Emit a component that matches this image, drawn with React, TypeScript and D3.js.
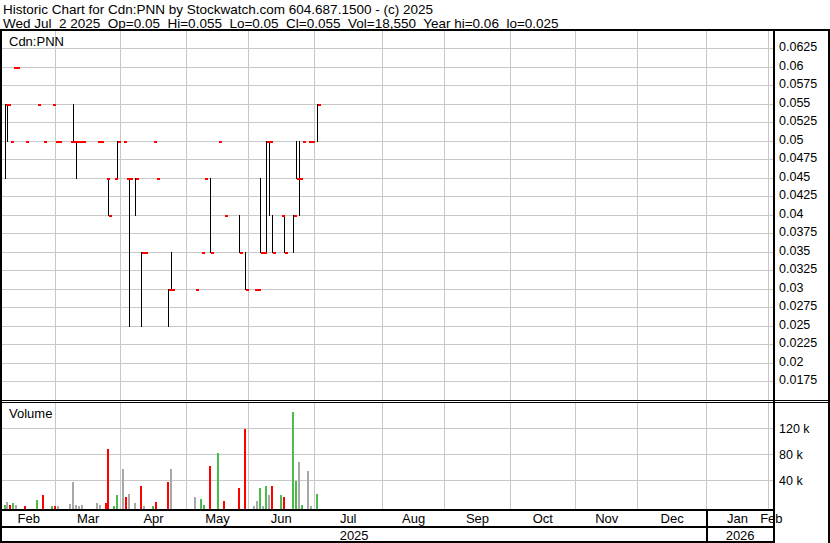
import { useEffect, useRef } from 'react';
import * as d3 from 'd3';

const title = 'Historic Chart for Cdn:PNN by Stockwatch.com 604.687.1500 - (c) 2025';
const quote = 'Wed Jul  2 2025  Op=0.05  Hi=0.055  Lo=0.05  Cl=0.055  Vol=18,550  Year hi=0.06  lo=0.025';
const symbol = 'Cdn:PNN';

// daily sessions (only days that traded)
const dates = [
  '2025-02-05', '2025-02-06', '2025-02-07', '2025-02-10', '2025-02-11', '2025-02-14', '2025-02-20', '2025-02-24',
  '2025-02-27', '2025-02-28', '2025-03-03', '2025-03-07', '2025-03-10', '2025-03-11', '2025-03-12', '2025-03-13',
  '2025-03-20', '2025-03-21', '2025-03-25', '2025-03-26', '2025-03-28', '2025-03-31', '2025-04-02', '2025-04-03',
  '2025-04-04', '2025-04-08', '2025-04-10', '2025-04-11', '2025-04-16', '2025-04-17', '2025-04-23', '2025-04-24',
  '2025-05-06', '2025-05-08', '2025-05-09', '2025-05-13', '2025-05-16', '2025-05-20', '2025-05-27', '2025-05-29',
  '2025-06-03', '2025-06-04', '2025-06-05', '2025-06-06', '2025-06-09', '2025-06-10', '2025-06-11', '2025-06-16',
  '2025-06-17', '2025-06-20', '2025-06-23', '2025-06-24', '2025-06-25', '2025-06-27', '2025-06-30', '2025-07-02',
];
const highs = [
  0.055, 0.055, 0.05, 0.06, 0.06, 0.05, 0.055, 0.05,
  0.055, 0.05, 0.05, 0.05, 0.055, 0.05, 0.05, 0.05,
  0.05, 0.05, 0.045, 0.045, 0.045, 0.05, 0.05, 0.045,
  0.045, 0.045, 0.035, 0.035, 0.05, 0.045, 0.03, 0.035,
  0.03, 0.035, 0.045, 0.045, 0.05, 0.04, 0.04, 0.035,
  0.03, 0.03, 0.045, 0.035, 0.05, 0.05, 0.04, 0.04,
  0.04, 0.04, 0.05, 0.05, 0.05, 0.05, 0.05, 0.055,
];
const lows = [
  0.045, 0.05, 0.05, 0.06, 0.06, 0.05, 0.055, 0.05,
  0.055, 0.05, 0.05, 0.05, 0.05, 0.045, 0.05, 0.05,
  0.05, 0.05, 0.045, 0.04, 0.045, 0.045, 0.05, 0.045,
  0.025, 0.04, 0.025, 0.035, 0.05, 0.045, 0.025, 0.03,
  0.03, 0.035, 0.045, 0.035, 0.05, 0.04, 0.035, 0.03,
  0.03, 0.03, 0.035, 0.035, 0.035, 0.04, 0.035, 0.04,
  0.035, 0.035, 0.045, 0.04, 0.05, 0.05, 0.05, 0.05,
];
const closes = [
  0.055, 0.055, 0.05, 0.06, 0.06, 0.05, 0.055, 0.05,
  0.055, 0.05, 0.05, 0.05, 0.05, 0.05, 0.05, 0.05,
  0.05, 0.05, 0.045, 0.04, 0.045, 0.05, 0.05, 0.045,
  0.045, 0.045, 0.035, 0.035, 0.05, 0.045, 0.03, 0.03,
  0.03, 0.035, 0.045, 0.035, 0.05, 0.04, 0.035, 0.03,
  0.03, 0.03, 0.035, 0.035, 0.05, 0.05, 0.035, 0.04,
  0.035, 0.04, 0.045, 0.045, 0.05, 0.05, 0.05, 0.055,
];
const volumes = [
  2500, 7000, 2500, 5500, 2500, 1500, 10000, 18000,
  1000, 1500, 1500, 4000, 37000, 2500, 1000, 2500,
  5500, 2500, 5500, 88000, 1000, 18000, 57000, 14000,
  20000, 5500, 31000, 1000, 500, 7000, 37000, 58000,
  14000, 12000, 2500, 63000, 83000, 8500, 29000, 120000,
  1000, 8500, 29000, 1000, 31000, 17000, 31000, 18000,
  15000, 146000, 40000, 69000, 2500, 55000, 1000, 18550,
];
const priorClose = 0.05;

const priceTicks = [0.0625, 0.06, 0.0575, 0.055, 0.0525, 0.05, 0.0475, 0.045, 0.0425, 0.04,
  0.0375, 0.035, 0.0325, 0.03, 0.0275, 0.025, 0.0225, 0.02, 0.0175];
const volumeTicks = [40000, 80000, 120000];
const volumeLabels = ['40 k', '80 k', '120 k'];
const monthStarts = ['2025-02-01', '2025-03-01', '2025-04-01', '2025-05-01', '2025-06-01', '2025-07-01',
  '2025-08-01', '2025-09-01', '2025-10-01', '2025-11-01', '2025-12-01', '2026-01-01', '2026-02-01', '2026-03-01'];
const monthLabels = ['Feb', 'Mar', 'Apr', 'May', 'Jun', 'Jul', 'Aug', 'Sep', 'Oct', 'Nov', 'Dec', 'Jan', 'Feb'];
const yearLabels = ['2025', '2026'];

const parse = d3.timeParse('%Y-%m-%d');
const origin = parse('2025-02-05')!;
const weekend = (d: Date) => d.getDay() === 0 || d.getDay() === 6;

// weekday slot number counted from the first plotted session
function slot(d: Date) {
  let t = d;
  while (weekend(t)) t = d3.timeDay.offset(t, -1);
  if (t < origin) return -d3.timeDay.range(t, origin).filter((x) => !weekend(x)).length;
  return d3.timeDay.range(origin, t).filter((x) => !weekend(x)).length;
}

export default function App() {
  const ref = useRef<SVGSVGElement>(null);
  const width = 830;
  const height = 543;

  useEffect(() => {
    if (!ref.current) return;
    const svg = d3.select(ref.current);
    svg.selectAll('*').remove();

    const left = 2, right = 774;
    const font = "'Liberation Sans', Arial, sans-serif";

    const x = d3.scaleLinear().domain([0, 105]).range([5, 317]);
    const y = d3.scaleLinear().domain([0.025, 0.05]).range([326.3, 141.3]);
    const yv = d3.scaleLinear().domain([0, 40000]).range([506.5, 480.5]);
    const volBase = 509;

    const px = (v: number) => Math.floor(v) + 0.5;
    const days = dates.map((s, i) => ({
      s: slot(parse(s)!), hi: highs[i], lo: lows[i], cl: closes[i], vol: volumes[i],
      prev: i === 0 ? priorClose : closes[i - 1],
    }));

    svg.append('rect').attr('width', width).attr('height', height).attr('fill', '#fff');

    const grid = svg.append('g').attr('stroke', '#c8c8c8').attr('shape-rendering', 'crispEdges');
    grid.selectAll('line.p').data(priceTicks).enter().append('line')
      .attr('x1', left).attr('x2', right).attr('y1', (d) => px(y(d))).attr('y2', (d) => px(y(d)));
    grid.selectAll('line.v').data(volumeTicks).enter().append('line')
      .attr('x1', left).attr('x2', right).attr('y1', (d) => px(yv(d))).attr('y2', (d) => px(yv(d)));

    const gx = monthStarts.map((m) => x(slot(parse(m)!)));
    const inner = gx.filter((g) => g > left && g < right);
    grid.selectAll('line.m1').data(inner).enter().append('line')
      .attr('x1', (d) => px(d)).attr('x2', (d) => px(d)).attr('y1', 31).attr('y2', 400);
    grid.selectAll('line.m2').data(inner).enter().append('line')
      .attr('x1', (d) => px(d)).attr('x2', (d) => px(d)).attr('y1', 403).attr('y2', 509);

    // hi-lo bars
    svg.append('g').attr('shape-rendering', 'crispEdges').selectAll('line')
      .data(days.filter((d) => d.hi > d.lo)).enter().append('line')
      .attr('x1', (d) => px(x(d.s))).attr('x2', (d) => px(x(d.s)))
      .attr('y1', (d) => Math.floor(y(d.hi))).attr('y2', (d) => Math.floor(y(d.lo)) + 1)
      .attr('stroke', '#000').attr('stroke-width', 1);

    // close ticks
    svg.append('g').attr('shape-rendering', 'crispEdges').selectAll('rect')
      .data(days).enter().append('rect')
      .attr('x', (d) => Math.floor(x(d.s)) + 1).attr('y', (d) => Math.floor(y(d.cl)))
      .attr('width', 2.6).attr('height', 2).attr('fill', '#ff0000');

    // volume
    svg.append('g').attr('shape-rendering', 'crispEdges').selectAll('rect')
      .data(days).enter().append('rect')
      .attr('x', (d) => Math.floor(x(d.s)) - 1).attr('width', 2)
      .attr('y', (d) => yv(d.vol)).attr('height', (d) => volBase - yv(d.vol))
      .attr('fill', (d) => (d.cl > d.prev ? '#4cbb4c' : d.cl < d.prev ? '#ff0000' : '#a8a8a8'));

    const text = svg.append('g').attr('font-family', font).attr('fill', '#000');
    text.append('text').attr('x', 3).attr('y', 14).attr('font-size', 13.5).text(title);
    text.append('text').attr('x', 3).attr('y', 27.5).attr('font-size', 13.5)
      .style('white-space', 'pre').text(quote);
    text.append('text').attr('x', 9).attr('y', 46).attr('font-size', 13).text(symbol);
    text.append('text').attr('x', 9).attr('y', 418).attr('font-size', 13).text('Volume');

    text.selectAll('text.pl').data(priceTicks).enter().append('text')
      .attr('x', 779).attr('y', (d) => y(d) + 2.5).attr('font-size', 12.5).text((d) => String(d));
    text.selectAll('text.vl').data(volumeTicks).enter().append('text')
      .attr('x', 779).attr('y', (d) => yv(d) + 4).attr('font-size', 12.5)
      .text((d, i) => volumeLabels[i]);

    monthLabels.forEach((m, i) => {
      const a = Math.max(left, gx[i]);
      const b = Math.min(right, gx[i + 1]);
      text.append('text').attr('x', (a + b) / 2).attr('y', 523).attr('font-size', 13)
        .attr('text-anchor', 'middle').text(m);
    });
    const jan = gx[11];
    [[left, jan], [jan, right]].forEach(([a, b], i) => {
      text.append('text').attr('x', (a + b) / 2).attr('y', 539.5).attr('font-size', 13)
        .attr('text-anchor', 'middle').text(yearLabels[i]);
    });

    // frame
    const frame = svg.append('g').attr('fill', '#000').attr('shape-rendering', 'crispEdges');
    frame.append('rect').attr('x', 0).attr('y', 29).attr('width', width).attr('height', 2);
    frame.append('rect').attr('x', 0).attr('y', 29).attr('width', 2).attr('height', height - 29);
    frame.append('rect').attr('x', 773).attr('y', 29).attr('width', 2).attr('height', height - 29);
    frame.append('rect').attr('x', 828).attr('y', 29).attr('width', 2).attr('height', height - 29);
    frame.append('rect').attr('x', 0).attr('y', 400).attr('width', width).attr('height', 1);
    frame.append('rect').attr('x', 0).attr('y', 402).attr('width', width).attr('height', 1);
    frame.append('rect').attr('x', 0).attr('y', 509).attr('width', 775).attr('height', 2);
    frame.append('rect').attr('x', 0).attr('y', 526).attr('width', 775).attr('height', 2);
    frame.append('rect').attr('x', 0).attr('y', 541).attr('width', 775).attr('height', 2);
    frame.append('rect').attr('x', Math.floor(jan)).attr('y', 510).attr('width', 2).attr('height', 33);
  }, []);

  return (
    <svg ref={ref} width={width} height={height}
      style={{ position: 'absolute', left: 0, top: 0, display: 'block' }} />
  );
}
